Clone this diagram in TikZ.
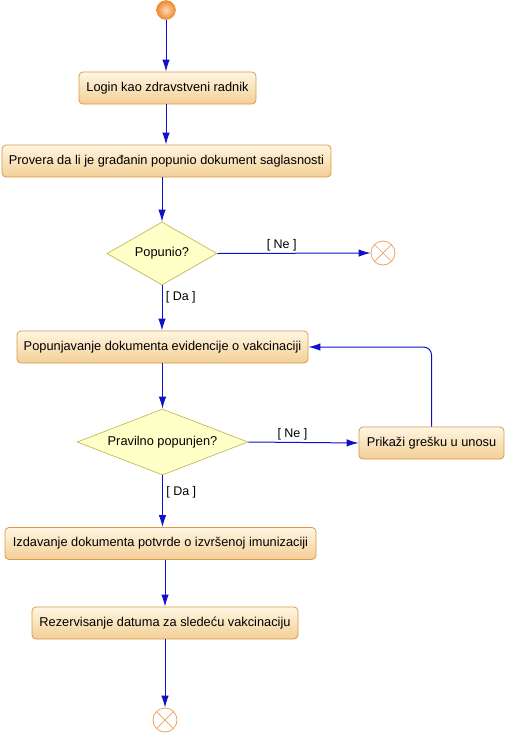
\documentclass[tikz,border=0pt]{standalone}
\usepackage{fontspec}
\setmainfont{Liberation Sans}
\usetikzlibrary{shapes.geometric,arrows.meta,positioning}
\definecolor{boxtop}{HTML}{FFF6E2}
\definecolor{boxbot}{HTML}{F3CF96}
\definecolor{boxline}{HTML}{D99A4A}
\definecolor{diafill}{HTML}{FFFFC8}
\definecolor{dialine}{HTML}{C9B85A}
\definecolor{flow}{HTML}{1010C8}
\definecolor{endline}{HTML}{EDA25E}
\definecolor{startin}{HTML}{FBD9B8}
\definecolor{startout}{HTML}{EE8A30}
\begin{document}
\begin{tikzpicture}[x=1pt,y=-1pt,
  every node/.style={font=\fontsize{12.8}{15}\selectfont},
  action/.style={rectangle,rounded corners=4pt,draw=boxline,line width=0.8pt,
    top color=boxtop,bottom color=boxbot,minimum height=32pt,inner xsep=5pt},
  decision/.style={diamond,draw=dialine,fill=diafill,line width=0.7pt,inner sep=0pt},
  endstate/.style={circle,draw=endline,line width=0.8pt,minimum size=24pt,inner sep=0pt,
    path picture={\draw[endline,line width=0.7pt]
      (path picture bounding box.north west)--(path picture bounding box.south east)
      (path picture bounding box.north east)--(path picture bounding box.south west);}},
  flowline/.style={draw=flow,line width=1pt,-{Latex[length=12pt,width=7.5pt]}},
  guard/.style={font=\fontsize{12.5}{15}\selectfont}]
\useasboundingbox (0,0) rectangle (505,737);
\fill[white] (0,0) rectangle (505,737);

\node[circle,minimum size=19pt,inner sep=0pt,draw=startout,line width=0.4pt,
  inner color=startin,outer color=startout] (start) at (166,10) {};
\node[action,minimum width=177pt] (login) at (167.5,88) {Login kao zdravstveni radnik};
\node[action,minimum width=329pt] (provera) at (166.5,161) {Provera da li je građanin popunio dokument saglasnosti};
\node[decision,shape aspect=1.75,minimum width=110pt,minimum height=63pt] (d1) at (162,253.5) {Popunio?};
\node[endstate] (end1) at (383,253) {};
\node[action,minimum width=291pt] (popunj) at (162.5,347) {Popunjavanje dokumenta evidencije o vakcinaciji};
\node[decision,shape aspect=2.6,minimum width=171pt,minimum height=66pt] (d2) at (162.5,442) {Pravilno popunjen?};
\node[action,minimum width=145pt] (greska) at (431.5,443) {Prikaži grešku u unosu};
\node[action,minimum width=311pt] (izdav) at (160.5,543.5) {Izdavanje dokumenta potvrde o izvršenoj imunizaciji};
\node[action,minimum width=266pt] (rezerv) at (165,623) {Rezervisanje datuma za sledeću vakcinaciju};
\node[endstate] (end2) at (165,720) {};

\draw[flowline] (start) -- (start |- login.north);
\draw[flowline] (login.south -| start) -- (provera.north -| start);
\draw[flowline] (provera.south -| d1.north) -- (d1.north);
\draw[flowline] (d1.east) -- node[guard,above,pos=0.42,inner sep=2pt] (ne1) {[ Ne ]} (end1.west);
\draw[flowline] (d1.south) -- node[guard,right,pos=0.26] (da1) {[ Da ]} (popunj.north -| d1.south);
\draw[flowline] (popunj.south -| d2.north) -- (d2.north);
\draw[flowline] (d2.east) -- node[guard,above,pos=0.4,inner sep=2pt] (ne2) {[ Ne ]} (greska.west);
\draw[flowline,rounded corners=8pt] (greska.north) |- (popunj.east);
\draw[flowline] (d2.south) -- node[guard,right,pos=0.33] (da2) {[ Da ]} (izdav.north -| d2.south);
\draw[flowline] (izdav.south -| rezerv.north) -- (rezerv.north);
\draw[flowline] (rezerv.south -| end2.north) -- (end2.north);
\end{tikzpicture}
\end{document}
